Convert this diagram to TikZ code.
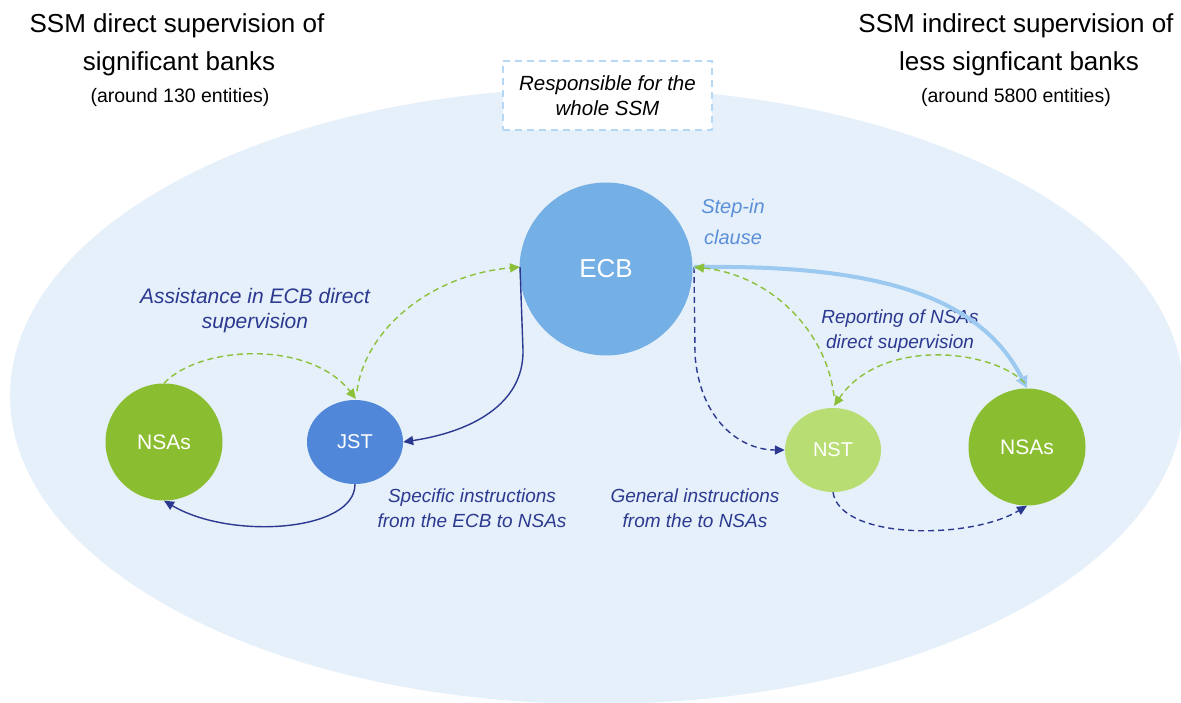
\documentclass[tikz,border=0pt]{standalone}
\usepackage{fontspec}
\setmainfont{Liberation Sans}
\usetikzlibrary{arrows.meta,shapes.geometric}
\definecolor{bgell}{HTML}{E6F0FA}
\definecolor{ecbcol}{HTML}{74AFE6}
\definecolor{jstcol}{HTML}{5187D9}
\definecolor{nsacol}{HTML}{8BBD30}
\definecolor{nstcol}{HTML}{B8DD72}
\definecolor{navy}{HTML}{2B3990}
\definecolor{greenarr}{HTML}{8CC03A}
\definecolor{lblue}{HTML}{9CC9F0}
\definecolor{stepcol}{HTML}{5B8FD8}
\definecolor{boxline}{HTML}{B6D8F5}
\tikzset{
  ent/.style={circle,inner sep=0pt,text=white,font=\fontsize{21}{24}\selectfont},
  entell/.style={ellipse,inner sep=0pt,text=white,font=\fontsize{20}{24}\selectfont},
  lbl/.style={align=center,text=navy,font=\fontsize{19}{25}\selectfont\itshape},
  hdr/.style={anchor=base,font=\fontsize{26}{30}\selectfont},
  hsub/.style={anchor=base,font=\fontsize{19.5}{24}\selectfont},
  navyline/.style={draw=navy,line width=1.4pt,-{Triangle[length=10pt,width=9pt]}},
  navydash/.style={navyline,dash pattern=on 6pt off 4pt},
  greendash/.style={draw=greenarr,line width=1.4pt,dash pattern=on 6pt off 4pt,-{Triangle[length=10pt,width=9pt]}},
  bluethick/.style={draw=lblue,line width=4pt,-{Triangle[length=12pt,width=12pt]}}
}
\begin{document}
\begin{tikzpicture}[x=1pt,y=-1pt]
\useasboundingbox (0,0) rectangle (1181,703);
\fill[white] (0,0) rectangle (1181,703);
\begin{scope}
\clip (0,0) rectangle (1181,703);
\fill[bgell] (597,396) ellipse [x radius=587pt, y radius=308pt];
\end{scope}

% headers
\node[hdr] (hl1) at (177,33) {SSM direct supervision of};
\node[hdr] (hl2) at (179,71) {significant banks};
\node[hsub] (hl3) at (180,103) {(around 130 entities)};
\node[hdr] (hr1) at (1016,33) {SSM indirect supervision of};
\node[hdr] (hr2) at (1019,71) {less signficant banks};
\node[hsub] (hr3) at (1016,103) {(around 5800 entities)};

% responsible box
\node[draw=boxline,fill=white,line width=2pt,dash pattern=on 7pt off 5pt,
      minimum width=209pt,minimum height=69pt,align=center,
      font=\fontsize{20.5}{25}\selectfont\itshape] (resp) at (607.5,95.5)
      {Responsible for the\\whole SSM};

% entities
\node[ent,fill=ecbcol,minimum size=173pt,font=\fontsize{26}{30}\selectfont] (ecb) at (606,269) {ECB};
\node[entell,fill=jstcol,minimum width=96pt,minimum height=84pt] (jst) at (355,442) {JST};
\node[ent,fill=nsacol,minimum size=117pt] (nsal) at (164,442) {NSAs};
\node[entell,fill=nstcol,minimum width=96pt,minimum height=84pt] (nst) at (833,450) {NST};
\node[ent,fill=nsacol,minimum size=117pt] (nsar) at (1027,447) {NSAs};

% labels
\node[lbl,font=\fontsize{21}{25}\selectfont\itshape] (assist) at (255,311) {Assistance in ECB direct\\supervision};
\node[lbl] (spec) at (472,508) {Specific instructions\\from the ECB to NSAs};
\node[lbl] (gen) at (695,508) {General instructions\\from the to NSAs};
\node[lbl] (rep) at (900,331) {Reporting of NSAs\\direct supervision};
\node[lbl,text=stepcol,font=\fontsize{20}{31}\selectfont\itshape] (step) at (733,222) {Step-in\\clause};

% coordinates
\coordinate (ecbL) at (520,267);
\coordinate (ecbR) at (694,267);
\coordinate (jstT) at (356,399);
\coordinate (nstT) at (834,406);

% connectors
\draw[greendash] (nsal.north) .. controls (200,345) and (310,340) .. (jstT);
\draw[greendash] (jstT) ++(1,-8) .. controls (365,330) and (430,275) .. (ecbL);
\draw[navyline] (ecbL) -- (523,350) .. controls (524,405) and (470,432) .. (jst.east);
\draw[navyline] (jst.south) .. controls (355,532) and (230,540) .. (nsal.south);
\draw[navydash] (ecbR) -- (695,355) .. controls (700,420) and (740,450) .. (nst.west);
\draw[bluethick] (ecbR) .. controls (850,265) and (975,285) .. (nsar.north);
\draw[greendash] (nstT) ++(0,-10) .. controls (826,330) and (770,275) .. (ecbR);
\draw[greendash] (1025,383) .. controls (990,348) and (880,338) .. (nstT);
\draw[navydash] (nst.south) .. controls (840,540) and (970,540) .. (nsar.south);
\end{tikzpicture}
\end{document}
